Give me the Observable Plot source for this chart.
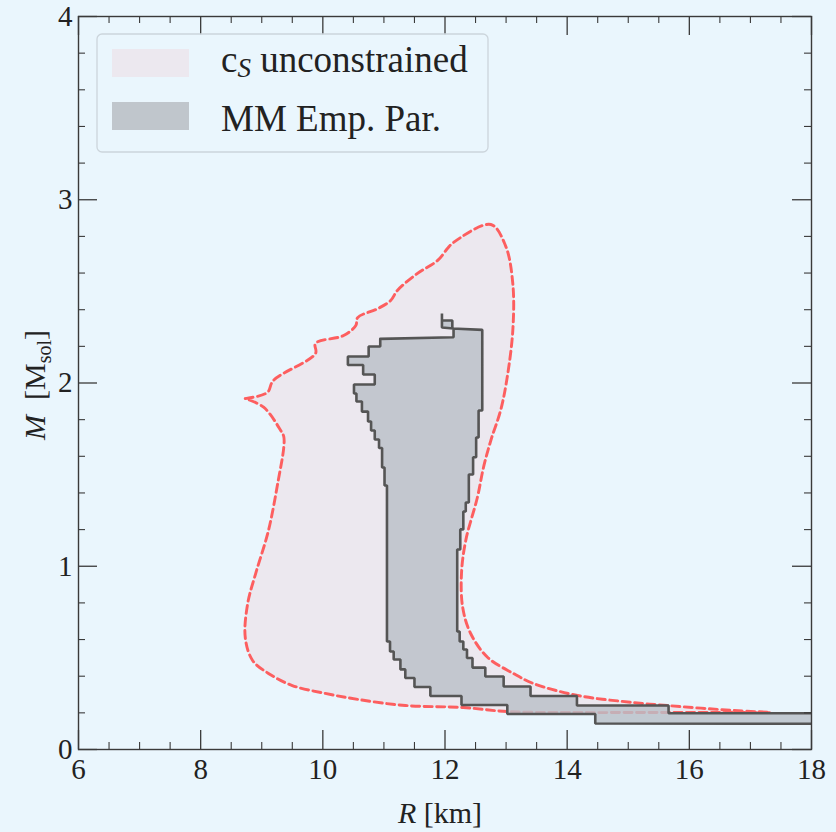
<!DOCTYPE html>
<html><head><meta charset="utf-8">
<script src="https://cdn.jsdelivr.net/npm/d3@7"></script>
<script src="https://cdn.jsdelivr.net/npm/@observablehq/plot@0.6"></script>
<style>
html,body{margin:0;padding:0;background:#eaf6fd;}
#chart svg{display:block;}
#chart svg text{font-family:"Liberation Serif","DejaVu Serif",serif;}
</style></head><body><div id="chart"></div>
<script>
// c_S unconstrained envelope (closed contour): radius R [km], mass M [Msol]
const csR = [8.73,9.09,9.19,9.88,9.88,10.34,10.54,10.57,10.90,11.11,11.22,11.55,11.88,12.04,12.14,12.75,
  12.99,13.11,13.11,13.01,12.91,12.75,12.63,12.53,12.34,12.27,12.29,12.42,12.70,13.12,13.45,14.17,15.09,15.64,16.72,17.33,
  16.72,15.64,14.01,13.02,12.30,11.35,10.58,10.04,9.50,9.11,8.85,8.73,8.77,8.90,9.11,9.27,9.36,9.36,9.31,9.03,8.73];
const csM = [1.915,1.948,2.014,2.161,2.216,2.259,2.314,2.357,2.406,2.450,2.505,2.598,2.669,2.734,2.767,2.865,
  2.750,2.543,2.286,2.014,1.850,1.686,1.539,1.375,1.141,0.960,0.775,0.633,0.502,0.415,0.360,0.295,0.256,0.240,0.213,0.202,
  0.202,0.202,0.202,0.207,0.229,0.240,0.273,0.306,0.349,0.415,0.486,0.611,0.797,0.960,1.195,1.468,1.648,1.708,1.741,1.868,1.915];

// MM Emp. Par. band (closed staircase outline)
const mmR = [10.94,12.14,12.14,11.95,11.95,11.95,12.12,12.12,12.61,
  12.61,12.55,12.55,12.51,12.51,12.46,12.46,12.39,12.39,12.34,12.34,12.30,12.30,12.25,12.25,12.20,12.20,
  12.24,12.24,12.30,12.30,12.36,12.36,12.45,12.45,12.66,12.66,12.96,12.96,13.40,13.40,14.16,14.16,15.66,15.66,18.5,
  18.5,14.46,14.46,13.02,13.02,12.27,12.27,11.76,11.76,11.50,11.50,11.35,11.35,11.27,11.27,11.16,11.16,11.10,11.10,11.05,
  11.05,11.01,11.01,10.97,10.97,10.92,10.92,10.85,10.85,10.79,10.79,10.74,10.74,10.64,10.64,10.55,10.55,10.51,10.51,
  10.85,10.85,10.66,10.66,10.41,10.41,10.75,10.75,10.94,10.94];
const mmM = [2.241,2.250,2.297,2.303,2.379,2.341,2.341,2.297,2.290,
  1.850,1.850,1.703,1.703,1.595,1.595,1.501,1.501,1.348,1.348,1.299,1.299,1.201,1.201,1.091,1.091,0.644,
  0.644,0.589,0.589,0.546,0.546,0.499,0.499,0.447,0.447,0.398,0.398,0.344,0.344,0.292,0.292,0.240,0.240,0.198,0.198,
  0.140,0.142,0.194,0.194,0.243,0.243,0.292,0.292,0.341,0.341,0.390,0.390,0.437,0.437,0.491,0.491,0.535,0.535,0.589,0.589,
  1.441,1.441,1.539,1.539,1.645,1.645,1.692,1.692,1.741,1.741,1.790,1.790,1.844,1.844,1.899,1.899,1.943,1.943,1.992,
  1.992,2.046,2.046,2.098,2.098,2.145,2.145,2.199,2.199,2.241];

const xMajor = [6,8,10,12,14,16,18];
const xMinor = [6.5,7,7.5,8.5,9,9.5,10.5,11,11.5,12.5,13,13.5,14.5,15,15.5,16.5,17,17.5];
const yMajor = [0,1,2,3,4];
const yMinor = [0.2,0.4,0.6,0.8,1.2,1.4,1.6,1.8,2.2,2.4,2.6,2.8,3.2,3.4,3.6,3.8];

const legendLabels = ["unconstrained", "MM Emp. Par."];

const W = 836, H = 832, mL = 78, mR = 25, mT = 16, mB = 83;
const pw = W - mL - mR, ph = H - mT - mB;
const major = 19, minor = 7;
const axisColor = "#3a3a3a";
const pink = "#ece8ef", gray = "#b9c0c8";
const font = '"Liberation Serif", "DejaVu Serif", serif';

const chart = Plot.plot({
  width: W, height: H,
  marginLeft: mL, marginRight: mR, marginTop: mT, marginBottom: mB,
  style: {background: "transparent", fontFamily: font, color: "#222"},
  x: {domain: [6, 18], label: null},
  y: {domain: [0, 4], label: null},
  marks: [
    Plot.line(csR, {x: csR, y: csM, fill: pink, stroke: "#ff4a4a", strokeOpacity: 0.88, curve: "catmull-rom",
      strokeWidth: 2.9, strokeDasharray: "8,4.5", clip: true}),
    Plot.line(mmR, {x: mmR, y: mmM, fill: gray, fillOpacity: 0.82, stroke: "#555", strokeWidth: 2.6,
      strokeLinejoin: "miter", clip: true}),
    // inward ticks on all four sides
    Plot.ruleX(xMajor, {x: d => d, insetTop: ph - major, stroke: axisColor, strokeWidth: 1.3}),
    Plot.ruleX(xMajor, {x: d => d, insetBottom: ph - major, stroke: axisColor, strokeWidth: 1.3}),
    Plot.ruleX(xMinor, {x: d => d, insetTop: ph - minor, stroke: axisColor, strokeWidth: 1.1}),
    Plot.ruleX(xMinor, {x: d => d, insetBottom: ph - minor, stroke: axisColor, strokeWidth: 1.1}),
    Plot.ruleY(yMajor, {y: d => d, insetRight: pw - major, stroke: axisColor, strokeWidth: 1.3}),
    Plot.ruleY(yMajor, {y: d => d, insetLeft: pw - major, stroke: axisColor, strokeWidth: 1.3}),
    Plot.ruleY(yMinor, {y: d => d, insetRight: pw - minor, stroke: axisColor, strokeWidth: 1.1}),
    Plot.ruleY(yMinor, {y: d => d, insetLeft: pw - minor, stroke: axisColor, strokeWidth: 1.1}),
    Plot.frame({stroke: axisColor, strokeWidth: 1.4}),
    Plot.axisX(xMajor, {tickSize: 0, tickPadding: 9, fontSize: 29, label: null, tickFormat: d => String(d)}),
    Plot.axisY(yMajor, {tickSize: 0, tickPadding: 6, fontSize: 29, label: null, tickFormat: d => String(d)})
  ]
});
document.getElementById("chart").appendChild(chart);

const svg = d3.select(chart);
// x label
const xl = svg.append("text").attr("x", 440).attr("y", 823).attr("text-anchor", "middle")
  .attr("font-size", 30).attr("fill", "#222");
xl.append("tspan").attr("font-style", "italic").text("R");
xl.append("tspan").text(" [km]");
// y label
const yl = svg.append("text").attr("transform", "translate(45,385) rotate(-90)").attr("text-anchor", "middle")
  .attr("font-size", 30).attr("fill", "#222");
yl.append("tspan").attr("font-style", "italic").text("M");
yl.append("tspan").text("  [M");
yl.append("tspan").attr("font-size", 20).attr("dy", 6).text("sol");
yl.append("tspan").attr("dy", -6).text("]");

// legend
const lg = svg.append("g");
lg.append("rect").attr("x", 97).attr("y", 34).attr("width", 391).attr("height", 118).attr("rx", 5)
  .attr("fill", "#eaf6fd").attr("fill-opacity", 0.8).attr("stroke", "#ccd5dc").attr("stroke-width", 1.3);
lg.append("rect").attr("x", 112).attr("y", 49).attr("width", 77).attr("height", 28).attr("fill", pink);
lg.append("rect").attr("x", 112).attr("y", 102).attr("width", 77).attr("height", 28).attr("fill", "#c0c6cc");
const t1 = lg.append("text").attr("x", 221).attr("y", 72).attr("text-anchor", "start")
  .attr("font-size", 37).attr("fill", "#222");
t1.append("tspan").text("c");
t1.append("tspan").attr("font-style", "italic").attr("font-size", 27).attr("dy", 5).text("S");
t1.append("tspan").attr("dy", -5).text(" " + legendLabels[0]);
lg.append("text").attr("x", 221).attr("y", 131).attr("text-anchor", "start")
  .attr("font-size", 37).attr("fill", "#222").text(legendLabels[1]);
</script>
</body></html>
